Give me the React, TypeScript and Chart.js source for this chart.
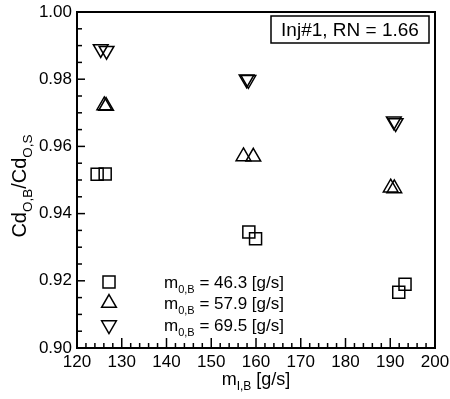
import { useEffect, useRef } from 'react';
import { Chart, registerables } from 'chart.js';

Chart.register(...registerables);

// ---- data ----
const xSquare = [124.5, 126.3, 158.4, 159.9, 191.9, 193.3];
const ySquare = [0.9517, 0.9518, 0.9345, 0.9325, 0.9166, 0.919];
const xUp = [126.1, 126.5, 157.2, 159.4, 190.1, 190.9];
const yUp = [0.9722, 0.972, 0.957, 0.9569, 0.9477, 0.9475];
const xDown = [125.3, 126.6, 157.9, 158.3, 190.8, 191.2];
const yDown = [0.989, 0.9885, 0.98, 0.9798, 0.9675, 0.967];
const seriesValues = ['46.3', '57.9', '69.5'];
const seriesStyles = ['rect', 'triangle', 'triangle'];
const seriesRotation = [0, 0, 180];
const xMin = 120, xMax = 200, xStep = 10, xMinorStep = 2;
const yMin = 0.9, yMax = 1.0, yStep = 0.02, yMinorStep = 0.005;
const annotationText = 'Inj#1, RN = 1.66';

const FONT = '"Liberation Sans", Arial, sans-serif';

type Part = [string, boolean];

function measureRich(ctx: CanvasRenderingContext2D, parts: Part[], size: number, sub: number) {
  let w = 0;
  for (const [t, s] of parts) {
    ctx.font = `${s ? sub : size}px ${FONT}`;
    w += ctx.measureText(t).width;
  }
  return w;
}

function drawRich(ctx: CanvasRenderingContext2D, parts: Part[], x: number, y: number, size: number, sub: number, align: 'left' | 'center') {
  const w = measureRich(ctx, parts, size, sub);
  let cx = align === 'center' ? x - w / 2 : x;
  ctx.textAlign = 'left';
  ctx.textBaseline = 'alphabetic';
  for (const [t, s] of parts) {
    ctx.font = `${s ? sub : size}px ${FONT}`;
    ctx.fillText(t, cx, s ? y + size * 0.3 : y);
    cx += ctx.measureText(t).width;
  }
}

function drawMarker(ctx: CanvasRenderingContext2D, style: string, x: number, y: number, r: number, rot: number) {
  ctx.beginPath();
  if (style === 'rect') {
    const s = Math.SQRT1_2 * r;
    ctx.rect(x - s, y - s, 2 * s, 2 * s);
  } else {
    const rad = (rot * Math.PI) / 180;
    for (let k = 0; k < 3; k++) {
      const ang = rad + (k * 2 * Math.PI) / 3;
      const px = x + Math.sin(ang) * r;
      const py = y - Math.cos(ang) * r;
      if (k === 0) ctx.moveTo(px, py);
      else ctx.lineTo(px, py);
    }
    ctx.closePath();
  }
  ctx.stroke();
}

const decorPlugin = {
  id: 'decor',
  afterDraw(chart: any) {
    const { ctx, chartArea: a, scales } = chart;
    ctx.save();
    ctx.fillStyle = '#000';
    ctx.strokeStyle = '#000';
    // frame
    ctx.lineWidth = 2;
    ctx.strokeRect(a.left, a.top, a.right - a.left, a.bottom - a.top);
    // ticks (inward)
    ctx.lineWidth = 1.5;
    const nx = Math.round((xMax - xMin) / xMinorStep);
    for (let i = 0; i <= nx; i++) {
      const v = xMin + i * xMinorStep;
      const px = scales.x.getPixelForValue(v);
      const major = Math.abs(v / xStep - Math.round(v / xStep)) < 1e-6;
      const len = major ? 10 : 5;
      ctx.beginPath();
      ctx.moveTo(px, a.bottom);
      ctx.lineTo(px, a.bottom - len);
      ctx.stroke();
    }
    const ny = Math.round((yMax - yMin) / yMinorStep);
    for (let i = 0; i <= ny; i++) {
      const v = yMin + i * yMinorStep;
      const py = scales.y.getPixelForValue(v);
      const major = i % Math.round(yStep / yMinorStep) === 0;
      const len = major ? 8 : 5;
      ctx.beginPath();
      ctx.moveTo(a.left, py);
      ctx.lineTo(a.left + len, py);
      ctx.stroke();
    }
    // x title
    drawRich(ctx, [['m', false], ['I,B', true], [' [g/s]', false]], (a.left + a.right) / 2, 385, 18, 12, 'center');
    // y title
    ctx.save();
    ctx.translate(26, (a.top + a.bottom) / 2 + 6);
    ctx.rotate(-Math.PI / 2);
    drawRich(ctx, [['Cd', false], ['O,B', true], ['/Cd', false], ['O,S', true]], 0, 0, 20, 13.5, 'center');
    ctx.restore();
    // legend
    const rows = [282, 303, 325];
    chart.data.datasets.forEach((ds: any, i: number) => {
      ctx.lineWidth = 1.5;
      ctx.strokeStyle = '#000';
      drawMarker(ctx, seriesStyles[i], 109, rows[i], ds.pointRadius, seriesRotation[i]);
      ctx.fillStyle = '#000';
      drawRich(ctx, [['m', false], ['0,B', true], [` = ${seriesValues[i]} [g/s]`, false]], 164, rows[i] + 6, 17, 11, 'left');
    });
    // annotation box
    const bx1 = 271, bx2 = 429, by1 = 16, by2 = 43;
    ctx.lineWidth = 1.5;
    ctx.fillStyle = '#fff';
    ctx.fillRect(bx1, by1, bx2 - bx1, by2 - by1);
    ctx.strokeRect(bx1, by1, bx2 - bx1, by2 - by1);
    ctx.fillStyle = '#000';
    ctx.font = `19px ${FONT}`;
    ctx.textAlign = 'center';
    ctx.textBaseline = 'middle';
    ctx.fillText(annotationText, (bx1 + bx2) / 2, (by1 + by2) / 2 + 1);
    ctx.restore();
  },
};

export default function App() {
  const ref = useRef<HTMLCanvasElement>(null);
  useEffect(() => {
    if (!ref.current) return;
    const mk = (xs: number[], ys: number[]) => xs.map((x, i) => ({ x, y: ys[i] }));
    const radii = [8.5, 8.5, 8.5];
    const chart = new Chart(ref.current, {
      type: 'scatter',
      data: {
        datasets: [mk(xSquare, ySquare), mk(xUp, yUp), mk(xDown, yDown)].map((d, i) => ({
          label: `m0,B = ${seriesValues[i]} [g/s]`,
          data: d,
          pointStyle: seriesStyles[i] as any,
          rotation: seriesRotation[i],
          pointRadius: radii[i],
          pointBorderColor: '#000',
          pointBackgroundColor: 'rgba(0,0,0,0)',
          pointBorderWidth: 1.5,
          borderColor: '#000',
          backgroundColor: 'rgba(0,0,0,0)',
          showLine: false,
        })),
      },
      options: {
        responsive: false,
        animation: false,
        events: [],
        layout: { padding: { left: 0, top: 12, right: 15, bottom: 0 } },
        plugins: { legend: { display: false }, tooltip: { enabled: false }, title: { display: false } },
        scales: {
          x: {
            type: 'linear',
            min: xMin,
            max: xMax,
            grid: { display: false, drawTicks: false },
            border: { display: false },
            ticks: { stepSize: xStep, color: '#000', font: { family: FONT, size: 17 }, padding: 4, maxRotation: 0 },
            afterFit: (s: any) => { s.height = 51; s.paddingLeft = 0; s.paddingRight = 0; },
          },
          y: {
            type: 'linear',
            min: yMin,
            max: yMax,
            grid: { display: false, drawTicks: false },
            border: { display: false },
            ticks: { stepSize: yStep, color: '#000', font: { family: FONT, size: 17 }, padding: 5, callback: (v: any) => Number(v).toFixed(2) },
            afterFit: (s: any) => { s.width = 77; s.paddingTop = 0; s.paddingBottom = 0; },
          },
        },
      },
      plugins: [decorPlugin],
    } as any);
    return () => chart.destroy();
  }, []);
  return (
    <div style={{ position: 'fixed', left: 0, top: 0, width: 450, height: 399, background: '#fff' }}>
      <canvas ref={ref} width={450} height={399} style={{ width: 450, height: 399, display: 'block' }} />
    </div>
  );
}
